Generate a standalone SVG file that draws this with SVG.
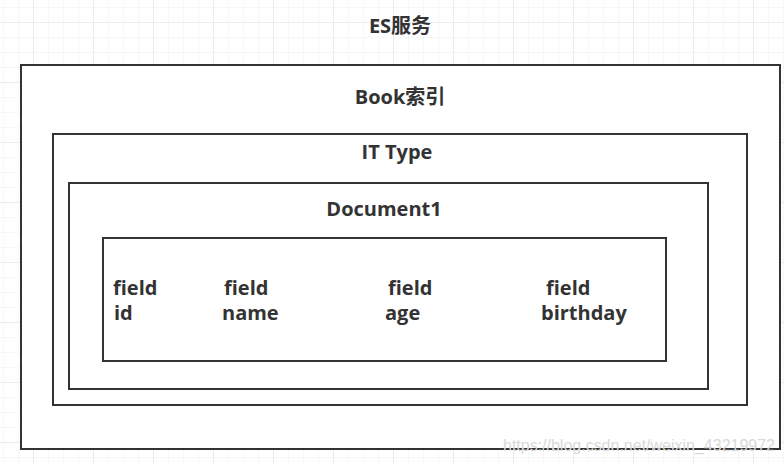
<svg xmlns="http://www.w3.org/2000/svg" width="784" height="464" viewBox="0 0 784 464">
  <style>
    .box { fill: #ffffff; stroke: #333333; stroke-width: 2; }
    .t { font-family: "Open Sans", "Noto Sans CJK SC", sans-serif; font-weight: bold; font-size: 20px; fill: #333333; }
    .c { text-anchor: middle; }
    .wm { font-family: "Liberation Sans", Arial, sans-serif; font-size: 16px; fill: #d9d9d9; }
  </style>
  <defs>
    <pattern id="minor" x="3" y="7" width="15" height="15" patternUnits="userSpaceOnUse">
      <path d="M0 0 H15 M0 0 V15" fill="none" stroke="#efefef" stroke-width="1"/>
    </pattern>
    <pattern id="major" x="33" y="22" width="60" height="60" patternUnits="userSpaceOnUse">
      <path d="M0 0 H60 M0 0 V60" fill="none" stroke="#e2e2e2" stroke-width="1"/>
    </pattern>
  </defs>
  <rect width="784" height="464" fill="#ffffff"/>
  <rect width="784" height="464" fill="url(#minor)"/>
  <rect width="784" height="464" fill="url(#major)"/>

  <g id="es-service">
    <rect class="box" x="21" y="65" width="759" height="384"/>
    <text class="t c" x="400" y="33">ES服务</text>
  </g>
  <g id="book-index">
    <rect class="box" x="53" y="134" width="694" height="271"/>
    <text class="t c" x="400" y="104">Book索引</text>
  </g>
  <g id="it-type">
    <rect class="box" x="69" y="183" width="639" height="206"/>
    <text class="t c" x="397" y="159">IT Type</text>
  </g>
  <g id="document1">
    <rect class="box" x="103" y="238" width="563" height="123"/>
    <text class="t c" x="384" y="216">Document1</text>
  </g>
  <g id="field-id">
    <text class="t" x="113" y="295">field</text>
    <text class="t" x="114" y="320">id</text>
  </g>
  <g id="field-name">
    <text class="t" x="224" y="295">field</text>
    <text class="t" x="222" y="320">name</text>
  </g>
  <g id="field-age">
    <text class="t" x="388" y="295">field</text>
    <text class="t" x="385" y="320">age</text>
  </g>
  <g id="field-birthday">
    <text class="t" x="546" y="295">field</text>
    <text class="t" x="541" y="320">birthday</text>
  </g>
  <g id="connectors"></g>
  <text class="wm" x="503" y="451" textLength="272">https://blog.csdn.net/weixin_43219972</text>
</svg>
